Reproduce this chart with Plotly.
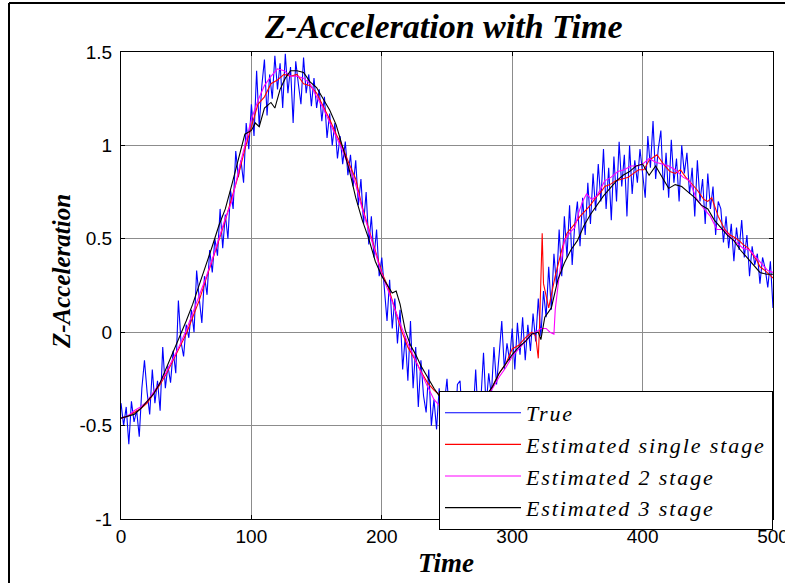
import plotly.graph_objects as go

# ---------------- data ----------------
t_true = list(range(0, 501, 2))
true_vals = [
    -0.38, -0.50, -0.40, -0.60, -0.37, -0.48, -0.42, -0.56, -0.30, -0.15,
    -0.32, -0.44, -0.20, -0.38, -0.26, -0.42, -0.08, -0.30, -0.18, -0.27,
    -0.10, -0.22, 0.17, -0.05, -0.13, 0.04, -0.03, 0.12, 0.00, 0.33,
    0.18, 0.05, 0.30, 0.20, 0.44, 0.32, 0.50, 0.41, 0.66, 0.45,
    0.63, 0.50, 0.76, 0.66, 0.97, 0.83, 0.92, 0.80, 1.12, 0.98,
    1.22, 1.05, 1.40, 1.10, 1.32, 1.46, 1.16, 1.38, 1.25, 1.48,
    1.30, 1.44, 1.20, 1.49, 1.28, 1.42, 1.12, 1.45, 1.33, 1.22,
    1.47, 1.28, 1.38, 1.21, 1.36, 1.20, 1.30, 1.13, 1.26, 1.04,
    1.17, 1.00, 1.12, 0.93, 1.05, 0.90, 1.02, 0.84, 0.95, 0.78,
    0.92, 0.68, 0.82, 0.58, 0.75, 0.47, 0.62, 0.40, 0.55, 0.30,
    0.40, 0.22, 0.06, 0.28, 0.02, 0.18, -0.06, 0.12, -0.20, -0.02,
    -0.26, 0.06, -0.30, -0.08, -0.40, -0.15, -0.34, -0.43, -0.20, -0.50,
    -0.36, -0.52, -0.30, -0.45, -0.38, -0.25, -0.48, -0.40, -0.55, -0.28,
    -0.26, -0.50, -0.38, -0.58, -0.34, -0.45, -0.20, -0.48, -0.36, -0.11,
    -0.40, -0.22, -0.34, -0.08, -0.28, -0.12, 0.06, -0.20, -0.06, -0.15,
    0.02, -0.20, 0.05, -0.12, 0.08, -0.15, 0.04, -0.10, 0.10, -0.05,
    0.18, -0.02, 0.22, 0.08, 0.35, 0.12, 0.42, 0.25, 0.55, 0.30,
    0.62, 0.40, 0.68, 0.36, 0.58, 0.70, 0.46, 0.72, 0.52, 0.80,
    0.58, 0.85, 0.65, 0.90, 0.70, 0.98, 0.66, 0.88, 0.60, 0.94,
    0.70, 1.02, 0.78, 0.95, 0.62, 1.00, 0.74, 0.92, 0.80, 0.98,
    0.86, 0.72, 1.05, 0.88, 1.13, 0.82, 0.98, 1.08, 0.76, 0.96,
    0.72, 1.03, 0.80, 0.93, 0.70, 1.00, 0.85, 0.96, 0.74, 0.88,
    0.62, 0.92, 0.70, 0.82, 0.58, 0.85, 0.66, 0.78, 0.52, 0.70,
    0.66, 0.48, 0.62, 0.45, 0.58, 0.38, 0.56, 0.44, 0.60, 0.40,
    0.52, 0.30, 0.46, 0.36, 0.42, 0.26, 0.40, 0.34, 0.24, 0.38,
    0.13,
]

t_single = list(range(0, 316, 5)) + [
    318, 320, 321, 323, 324, 326, 328, 330, 333, 338, 342, 348, 352, 356, 360,
    364, 368, 371, 375, 379, 384, 389, 393, 397, 401, 405, 411, 416, 421, 425,
    429, 433, 437, 442, 447, 450, 453, 458, 463, 467, 470, 474, 477, 481, 484,
    488, 490, 494, 497, 500]
single_vals = [
    -0.46, -0.45, -0.43, -0.41, -0.38, -0.33, -0.28, -0.22, -0.15, -0.08,
    -0.01, 0.08, 0.17, 0.28, 0.38, 0.49, 0.60, 0.72, 0.84, 0.98,
    1.10, 1.22, 1.26, 1.33, 1.35, 1.38, 1.37, 1.38, 1.33, 1.32,
    1.28, 1.21, 1.14, 1.06, 0.99, 0.90, 0.82, 0.67, 0.55, 0.44,
    0.32, 0.24, 0.12, 0.01, -0.08, -0.14, -0.21, -0.27, -0.31, -0.34,
    -0.38, -0.41, -0.43, -0.44, -0.42, -0.39, -0.35, -0.29, -0.22, -0.17,
    -0.09, -0.07, -0.03, 0.00,
    -0.02, -0.14, 0.04, 0.53, 0.26, 0.20, 0.13, 0.20, 0.30, 0.44, 0.53, 0.58,
    0.62, 0.65, 0.68, 0.72, 0.75, 0.78, 0.79, 0.81, 0.82, 0.83, 0.85, 0.87,
    0.87, 0.92, 0.95, 0.90, 0.86, 0.85, 0.87, 0.83, 0.80, 0.76, 0.71, 0.70,
    0.72, 0.62, 0.55, 0.52, 0.51, 0.49, 0.47, 0.45, 0.42, 0.38, 0.35, 0.33,
    0.31, 0.29,
]

t_two = list(range(0, 316, 5)) + [
    318, 322, 326, 329, 332, 333, 336, 340, 345, 348, 351, 354, 357, 361, 365,
    371, 376, 381, 386, 391, 396, 400, 405, 410, 415, 420, 425, 431, 436, 441,
    446, 452, 457, 462, 467, 472, 477, 482, 487, 492, 496, 500]
two_vals = [
    -0.46, -0.45, -0.42, -0.40, -0.37, -0.32, -0.27, -0.21, -0.14, -0.07,
    0.01, 0.10, 0.19, 0.29, 0.39, 0.50, 0.61, 0.70, 0.86, 1.00,
    1.14, 1.24, 1.32, 1.37, 1.41, 1.40, 1.37, 1.37, 1.36, 1.33,
    1.26, 1.20, 1.12, 1.04, 0.97, 0.88, 0.79, 0.66, 0.54, 0.42,
    0.31, 0.22, 0.12, 0.03, -0.06, -0.14, -0.22, -0.29, -0.36, -0.40,
    -0.42, -0.44, -0.45, -0.45, -0.43, -0.40, -0.35, -0.30, -0.24, -0.19,
    -0.13, -0.09, -0.05, -0.01,
    0.00, 0.02, 0.02, 0.00, -0.01, 0.12, 0.30, 0.49, 0.54, 0.56, 0.64, 0.70,
    0.74, 0.71, 0.73, 0.81, 0.83, 0.86, 0.87, 0.89, 0.89, 0.90, 0.93, 0.91,
    0.90, 0.89, 0.87, 0.83, 0.81, 0.72, 0.67, 0.62, 0.55, 0.55, 0.51, 0.48,
    0.45, 0.44, 0.40, 0.36, 0.33, 0.32,
]

t_three = [
    0, 5, 10, 15, 20, 25, 30, 35, 40, 45, 50, 55, 60, 65, 70, 75, 80, 85, 90,
    95, 100, 103, 106, 110, 115, 118, 122, 126, 130, 135, 140, 145, 150, 155,
    160, 165, 170, 175, 180, 185, 190, 195, 200, 205, 208, 211, 214, 218, 222,
    226, 230, 235, 240, 245, 250, 255, 260, 265, 270, 275, 280, 285, 290, 295,
    300, 305, 310, 315, 320, 322, 325, 330, 335, 340, 345, 350, 355, 360, 365,
    370, 375, 380, 385, 390, 395, 400, 405, 410, 415, 420, 425, 430, 435, 440,
    445, 450, 455, 460, 465, 470, 475, 480, 485, 490, 495, 500]
three_vals = [
    -0.46, -0.45, -0.44, -0.41, -0.37, -0.33, -0.27, -0.19, -0.11, -0.03,
    0.06, 0.15, 0.25, 0.36, 0.46, 0.57, 0.66, 0.79, 0.93, 1.06,
    1.08, 1.12, 1.10, 1.20, 1.23, 1.20, 1.30, 1.36, 1.40, 1.40,
    1.39, 1.34, 1.31, 1.25, 1.19, 1.11, 0.99, 0.87, 0.72, 0.60,
    0.50, 0.38, 0.30, 0.24, 0.21, 0.22, 0.15, 0.01, -0.07, -0.12,
    -0.18, -0.24, -0.30, -0.35, -0.39, -0.42, -0.44, -0.44, -0.42, -0.39,
    -0.34, -0.29, -0.22, -0.17, -0.12, -0.08, -0.05, -0.01, 0.00, -0.04,
    0.08, 0.13, 0.28, 0.37, 0.44, 0.49, 0.57, 0.63, 0.68, 0.73,
    0.77, 0.81, 0.84, 0.86, 0.89, 0.90, 0.84, 0.89, 0.83, 0.77,
    0.79, 0.78, 0.75, 0.72, 0.68, 0.66, 0.60, 0.56, 0.52, 0.49,
    0.44, 0.40, 0.36, 0.32, 0.31, 0.31,
]

series_names = ["True", "Estimated single stage", "Estimated 2 stage", "Estimated 3 stage"]
x_ticks = [0, 100, 200, 300, 400, 500]
y_ticks = [-1, -0.5, 0, 0.5, 1, 1.5]
y_tick_labels = ["-1", "-0.5", "0", "0.5", "1", "1.5"]

# ---------------- figure ----------------
W, H = 785, 583
ML, MT = 121, 52
MR, MB = 785 - 773, 583 - 519
PW, PH = W - ML - MR, H - MT - MB


def px(xr):   # reference pixel x -> paper x
    return (xr - ML) / PW


def py(yr):   # reference pixel y -> paper y
    return (H - MB - yr) / PH


def legend_label(s):
    return '<span style="letter-spacing:1.9px"><i>' + s + '</i></span>'


SERIF = "Liberation Serif, Times New Roman, serif"
SANS = "Liberation Sans, Arial, sans-serif"

fig = go.Figure()
for tx, vals, color, name in [
    (t_true, true_vals, "#0000ff", series_names[0]),
    (t_single, single_vals, "#ff0000", series_names[1]),
    (t_two, two_vals, "#ff00ff", series_names[2]),
    (t_three, three_vals, "#000000", series_names[3]),
]:
    fig.add_trace(go.Scatter(x=tx, y=vals, mode="lines",
                             line=dict(color=color, width=1.1),
                             name=legend_label(name)))

axis_common = dict(
    showline=True, linecolor="black", linewidth=1, mirror="allticks",
    ticks="inside", ticklen=4, tickcolor="black",
    showgrid=True, gridcolor="#8c8c8c", gridwidth=1,
    zeroline=False, ticklabeloverflow="allow", automargin=False,
    tickfont=dict(family=SANS, size=19, color="black"),
)

fig.update_layout(
    width=W, height=H,
    margin=dict(l=ML, r=MR, t=MT, b=MB, autoexpand=False),
    paper_bgcolor="white", plot_bgcolor="white",
    xaxis=dict(range=[0, 500], tickvals=x_ticks, ticktext=[str(v) for v in x_ticks],
               **axis_common),
    yaxis=dict(range=[-1, 1.5], tickvals=y_ticks, ticktext=y_tick_labels,
               ticklabelstandoff=4, **axis_common),
    showlegend=True,
    legend=dict(
        x=px(439), y=py(391), xanchor="left", yanchor="top",
        bgcolor="white", bordercolor="black", borderwidth=1,
        font=dict(family=SERIF, size=22, color="black"),
        itemwidth=76,
        tracegroupgap=0,
    ),
    annotations=[
        dict(text="<b><i>Z-Acceleration with Time</i></b>", xref="paper", yref="paper",
             x=px(443), y=py(26), xanchor="center", yanchor="middle",
             showarrow=False,
             font=dict(family=SERIF, size=34, color="black")),
        dict(text="<b><i>Time</i></b>", xref="paper", yref="paper",
             x=px(446), y=py(563), xanchor="center", yanchor="middle",
             showarrow=False,
             font=dict(family=SERIF, size=27, color="black")),
        dict(text="<b><i>Z-Acceleration</i></b>", xref="paper", yref="paper",
             x=px(61), y=py(272), xanchor="center", yanchor="middle",
             textangle=-90, showarrow=False,
             font=dict(family=SERIF, size=25, color="black")),
    ],
    shapes=[
        dict(type="line", xref="paper", yref="paper",
             x0=px(9), x1=px(9), y0=py(590), y1=py(3),
             line=dict(color="black", width=2), layer="below"),
        dict(type="line", xref="paper", yref="paper",
             x0=px(9), x1=px(790), y0=py(3), y1=py(3),
             line=dict(color="black", width=2), layer="below"),
    ],
)

fig.write_html("out.html", config={"displayModeBar": False},
               post_script="document.body.style.margin='0';")
